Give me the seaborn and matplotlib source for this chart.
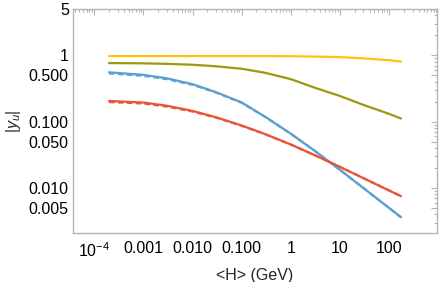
import numpy as np
import pandas as pd
import matplotlib
matplotlib.use("Agg")
import matplotlib.pyplot as plt
import matplotlib.ticker as mticker
import seaborn as sns

# ---- data ----
higgs_vev = [2e-4, 1e-3, 3e-3, 1e-2, 3e-2, 1e-1, 3e-1, 1.0, 3.0, 10.0, 30.0, 100.0, 174.0]

y_yellow = [0.976, 0.976, 0.976, 0.976, 0.976, 0.976, 0.975, 0.970, 0.959, 0.940, 0.901, 0.845, 0.804]
y_olive = [0.766, 0.758, 0.745, 0.722, 0.685, 0.628, 0.546, 0.438, 0.327, 0.244, 0.179, 0.131, 0.1117]
y_blue = [0.555, 0.509, 0.451, 0.368, 0.279, 0.195, 0.1188, 0.0658, 0.0368, 0.01877, 0.00998, 0.00500, 0.00363]
y_red = [0.2055, 0.1944, 0.1742, 0.1455, 0.1168, 0.0875, 0.0650, 0.0453, 0.0315, 0.0208, 0.01408, 0.00918, 0.00755]
y_blue_dashed = [0.535, 0.492, 0.438, 0.360, 0.275, 0.193, 0.118, 0.0657, 0.0368, 0.01877, 0.00998, 0.00500, 0.00363]
y_red_dashed = [0.198, 0.188, 0.169, 0.1425, 0.1152, 0.0868, 0.0648, 0.0452, 0.0315, 0.0208, 0.01408, 0.00918, 0.00755]

x_ticks = [1e-4, 1e-3, 1e-2, 1e-1, 1, 10, 100]
x_ticklabels = [r"$10^{-4}$", "0.001", "0.010", "0.100", "1", "10", "100"]
y_ticks = [0.005, 0.01, 0.05, 0.1, 0.5, 1, 5]
y_ticklabels = ["0.005", "0.010", "0.050", "0.100", "0.500", "1", "5"]

colors = {"yellow": "#FFC20E", "olive": "#999A0C", "blue": "#5C9FD1", "red": "#E9553A"}

# ---- figure ----
sns.set_style("white")
plt.rcParams["font.family"] = ["Liberation Sans", "DejaVu Sans"]
plt.rcParams["mathtext.fontset"] = "custom"
plt.rcParams["mathtext.rm"] = "Liberation Sans"
plt.rcParams["mathtext.it"] = "Liberation Sans:italic"

fig = plt.figure(figsize=(4.42, 2.82), dpi=100)
ax = fig.add_axes([73 / 442, 1 - 233 / 282, 364 / 442, 224 / 282])

lw = 1.6
df_bd = pd.DataFrame({"x": higgs_vev, "y": y_blue_dashed})
df_rd = pd.DataFrame({"x": higgs_vev, "y": y_red_dashed})
sns.lineplot(data=df_bd, x="x", y="y", ax=ax, color=colors["blue"], lw=lw, linestyle=(0, (2.5, 1.5)))
sns.lineplot(data=df_rd, x="x", y="y", ax=ax, color=colors["red"], lw=lw, linestyle=(0, (2.5, 1.5)))
for key, ys in [("yellow", y_yellow), ("olive", y_olive), ("blue", y_blue), ("red", y_red)]:
    d = pd.DataFrame({"x": higgs_vev, "y": ys})
    sns.lineplot(data=d, x="x", y="y", ax=ax, color=colors[key], lw=lw)

ax.set_xscale("log")
ax.set_yscale("log")
ax.set_xlim(3.7e-5, 940)
ax.set_ylim(0.0021, 5)

ax.set_xticks(x_ticks)
ax.set_xticklabels(x_ticklabels)
ax.set_yticks(y_ticks)
ax.set_yticklabels(y_ticklabels)
ax.xaxis.set_minor_locator(mticker.LogLocator(base=10, subs=np.arange(2, 10)))
ax.yaxis.set_minor_locator(mticker.LogLocator(base=10, subs=np.arange(2, 10)))
ax.xaxis.set_minor_formatter(mticker.NullFormatter())
ax.yaxis.set_minor_formatter(mticker.NullFormatter())

spine_col = "#B4B4B4"
for s in ax.spines.values():
    s.set_color(spine_col)
    s.set_linewidth(1.0)
ax.tick_params(which="both", direction="in", top=True, right=True, color=spine_col,
               labelsize=11.5, labelcolor="black", width=0.8)
ax.tick_params(which="major", length=4, pad=3)
ax.tick_params(which="minor", length=2)
ax.tick_params(axis="x", which="major", pad=6)

ax.set_xlabel("<H> (GeV)", fontsize=11.5, labelpad=6)
ax.set_ylabel(r"$|y_u|$", fontsize=11.5, labelpad=4)
ax.grid(False)

fig.savefig("out.png", dpi=100)
